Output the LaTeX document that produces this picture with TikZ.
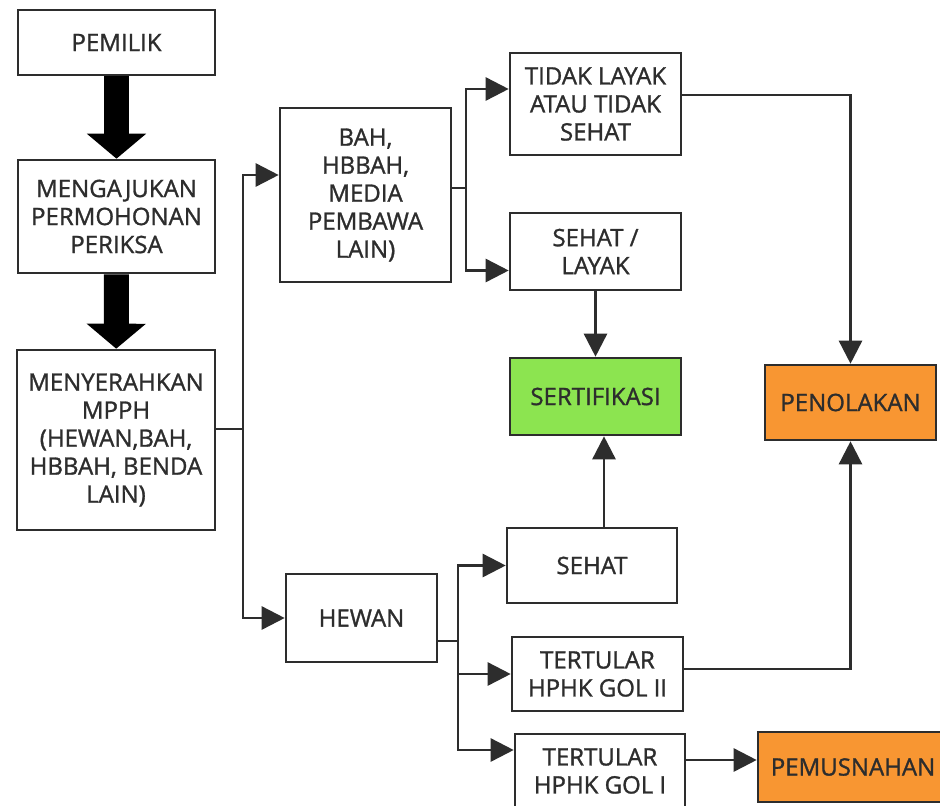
\documentclass[tikz,border=0pt]{standalone}
\usepackage{fontspec}
\setmainfont{Open Sans}[FakeBold=1.2]
\usetikzlibrary{arrows.meta}
\definecolor{sertgreen}{RGB}{140,228,80}
\definecolor{tolakorange}{RGB}{248,150,50}
\definecolor{garis}{RGB}{45,45,45}

\begin{document}
\begin{tikzpicture}[x=1pt,y=-1pt,>={Triangle[width=23pt,length=23pt]},
	box/.style={draw=garis,line width=2.6pt,rectangle,align=center,text=garis,inner sep=2pt,font=\fontsize{24}{28}\selectfont},
	hub/.style={draw=garis,line width=2.6pt},
	tebal/.style={line width=25pt,-{Triangle[width=58pt,length=25pt]}}]

\useasboundingbox[fill=white] (0,0) rectangle (940,806);

\node[box,minimum width=197pt,minimum height=65pt]	(pemilik)	at (116.5,42.5)		{PEMILIK};
\node[box,minimum width=197pt,minimum height=113pt]	(mengajukan)	at (116.5,216.5)	{MENGAJUKAN\\PERMOHONAN\\PERIKSA};
\node[box,minimum width=198pt,minimum height=180pt]	(menyerahkan)	at (116,440)	{MENYERAHKAN\\MPPH\\(HEWAN,BAH,\\HBBAH, BENDA\\LAIN)};

\node[box,minimum width=171pt,minimum height=174pt]	(bah)	at (365.5,195)	{BAH,\\HBBAH,\\MEDIA\\PEMBAWA\\LAIN)};
\node[box,minimum width=151pt,minimum height=88pt]	(hewan)	at (361.5,618)	{HEWAN};

\node[box,minimum width=171pt,minimum height=102pt]	(tidaklayak)	at (595.5,104)	{TIDAK LAYAK\\ATAU TIDAK\\SEHAT};
\node[box,minimum width=171pt,minimum height=77pt]	(layak)	at (595.5,251.5)	{SEHAT /\\LAYAK};
\node[box,fill=sertgreen,minimum width=171pt,minimum height=77pt]	(sertifikasi)	at (595.5,396.5)	{SERTIFIKASI};
\node[box,minimum width=170pt,minimum height=75pt]	(sehat)	at (592,565.5)	{SEHAT};
\node[box,minimum width=171pt,minimum height=74pt]	(golii)	at (597.5,674)	{TERTULAR\\HPHK GOL II};
\node[box,minimum width=170pt,minimum height=74pt]	(goli)	at (600,771)	{TERTULAR\\HPHK GOL I};

\node[box,fill=tolakorange,minimum width=171pt,minimum height=75pt]	(penolakan)	at (850.5,402.5)	{PENOLAKAN};
\node[box,fill=tolakorange,minimum width=190pt,minimum height=70pt]	(pemusnahan)	at (853,767)	{PEMUSNAHAN};

\coordinate (cabang1) at (243,429);
\coordinate (cabang2) at (466,188);
\coordinate (cabang3) at (458,641);

\draw[tebal] (pemilik) -- (mengajukan);
\draw[tebal] (mengajukan) -- (menyerahkan);

\draw[hub] (menyerahkan.east |- cabang1) -- (cabang1);
\draw[hub,->] (cabang1) |- ([yshift=20pt]bah.west);
\draw[hub,->] (cabang1) |- (hewan);

\draw[hub] (bah.east |- cabang2) -- (cabang2);
\draw[hub,->] (cabang2) |- ([yshift=15pt]tidaklayak.west);
\draw[hub,->] (cabang2) |- ([yshift=-19pt]layak.west);

\draw[hub] (hewan.east |- cabang3) -- (cabang3);
\draw[hub,->] (cabang3) |- (sehat);
\draw[hub,->] (cabang3) |- (golii);
\draw[hub,->] (cabang3) |- ([yshift=21pt]goli.west);

\draw[hub,->] ([yshift=9pt]tidaklayak.east) -| (penolakan);
\draw[hub,->] (layak) -- (sertifikasi);
\draw[hub,->] ([xshift=12pt]sehat.north) -- ([xshift=12pt]sehat.north |- sertifikasi.south);
\draw[hub,->] ([yshift=5pt]golii.east) -| (penolakan);
\draw[hub,->] ([yshift=11pt]goli.east) -- ([yshift=11pt]goli.east -| pemusnahan.west);

\end{tikzpicture}
\end{document}
